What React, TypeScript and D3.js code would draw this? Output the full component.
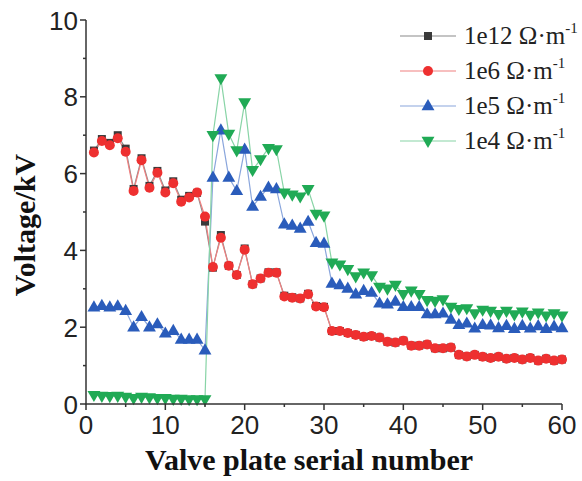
import React from "react";
import * as d3 from "d3";

const xs: number[] = d3.range(1, 61);

const s1e12: number[] = [
  6.6, 6.9, 6.8, 7.0, 6.65, 5.6, 6.4, 5.68, 6.07, 5.56, 5.8, 5.32, 5.42, 5.5, 4.75,
  3.55, 4.4, 3.6, 3.36, 4.05, 3.12, 3.27, 3.43, 3.43, 2.82, 2.78, 2.75, 2.87, 2.55, 2.53,
  1.9, 1.9, 1.85, 1.8, 1.75, 1.77, 1.73, 1.62, 1.6, 1.65, 1.52, 1.52, 1.55, 1.45, 1.45,
  1.47, 1.28, 1.24, 1.28, 1.23, 1.2, 1.23, 1.18, 1.2, 1.16, 1.2, 1.13, 1.18, 1.13, 1.16,
];
const s1e6: number[] = [
  6.55, 6.85, 6.74, 6.92, 6.57, 5.55, 6.35, 5.63, 6.02, 5.51, 5.75, 5.27, 5.38, 5.51, 4.88,
  3.57, 4.33, 3.6, 3.36, 4.02, 3.12, 3.27, 3.42, 3.42, 2.8, 2.77, 2.75, 2.86, 2.54, 2.52,
  1.9, 1.9, 1.85, 1.8, 1.75, 1.77, 1.73, 1.62, 1.6, 1.65, 1.52, 1.52, 1.55, 1.45, 1.45,
  1.47, 1.28, 1.24, 1.28, 1.23, 1.2, 1.23, 1.18, 1.2, 1.16, 1.2, 1.13, 1.18, 1.13, 1.16,
];
const s1e5: number[] = [
  2.52, 2.56, 2.52, 2.55, 2.43, 2.0, 2.27, 2.0, 2.08, 1.84, 1.91, 1.68, 1.68, 1.68, 1.4,
  5.9, 7.13, 5.9, 5.55, 6.63, 5.14, 5.4, 5.64, 5.6, 4.68, 4.65, 4.57, 4.75, 4.2, 4.18,
  3.14, 3.1, 3.01, 2.86, 2.95, 2.9, 2.62, 2.6, 2.67, 2.53, 2.53, 2.53, 2.34, 2.34, 2.36,
  2.2, 2.06, 2.1, 1.97, 2.06, 2.05, 1.98, 2.04, 1.96, 2.04, 1.97, 2.03, 1.96, 2.02, 1.98,
];
const s1e4: number[] = [
  0.23, 0.21, 0.2, 0.21, 0.18, 0.15, 0.18, 0.17, 0.15, 0.15, 0.13, 0.13, 0.12, 0.12, 0.12,
  7.0, 8.48, 7.03, 6.6, 7.85, 6.09, 6.37, 6.66, 6.63, 5.5, 5.45, 5.4, 5.59, 4.95, 4.9,
  3.68, 3.63, 3.51, 3.32, 3.42, 3.35, 3.05, 3.0, 3.1, 2.86, 2.95, 2.86, 2.7, 2.68, 2.72,
  2.53, 2.47, 2.49, 2.36, 2.45, 2.42, 2.34, 2.42, 2.33, 2.4, 2.32, 2.38, 2.3, 2.36, 2.3,
];

const legendLabels: string[] = ["1e12", "1e6", "1e5", "1e4"];
const xTicks: number[] = [0, 10, 20, 30, 40, 50, 60];
const yTicks: number[] = [0, 2, 4, 6, 8, 10];

type Series = { name: string; values: number[]; marker: string; color: string; line: string };

const series: Series[] = [
  { name: legendLabels[0], values: s1e12, marker: "square", color: "#3a3a3a", line: "#8a8a8a" },
  { name: legendLabels[1], values: s1e6, marker: "circle", color: "#ee3030", line: "#f08080" },
  { name: legendLabels[2], values: s1e5, marker: "triangle", color: "#2a5cbb", line: "#8aa6dc" },
  { name: legendLabels[3], values: s1e4, marker: "triangleDown", color: "#20aa55", line: "#88d4a6" },
];

const W = 582;
const H = 481;

function Marker({ type, x, y, color }: { type: string; x: number; y: number; color: string }) {
  if (type === "square") {
    return <rect x={x - 4} y={y - 4} width={8} height={8} fill={color} />;
  }
  if (type === "circle") {
    return <circle cx={x} cy={y} r={5} fill={color} />;
  }
  const sym = d3.symbol().type(d3.symbolTriangle).size(72)();
  const rot = type === "triangleDown" ? 180 : 0;
  return <path d={sym || ""} transform={`translate(${x},${y + (rot ? -0.5 : 0.5)}) rotate(${rot})`} fill={color} />;
}

export default function App() {
  const x = d3.scaleLinear().domain([0, 60]).range([86, 562]);
  const y = d3.scaleLinear().domain([0, 10]).range([404, 20]);
  const line = d3
    .line<number>()
    .x((_, i) => x(xs[i]))
    .y((d) => y(d));

  const axisColor = "#333";
  const yMinor = d3.range(1, 10, 2);
  const xMinor = d3.range(5, 60, 10);
  const sans = "Liberation Sans, Arial, sans-serif";
  const serif = "Liberation Serif, Times New Roman, serif";

  return (
    <svg width={W} height={H} style={{ position: "absolute", left: 0, top: 0, background: "#fff" }}>
      {series.map((s) => (
        <path key={s.name + "l"} d={line(s.values) || ""} fill="none" stroke={s.line} strokeWidth={1.2} />
      ))}
      {series.map((s) => (
        <g key={s.name + "m"}>
          {s.values.map((v, i) => (
            <Marker key={i} type={s.marker} x={x(xs[i])} y={y(v)} color={s.color} />
          ))}
        </g>
      ))}
      <line x1={86} x2={86} y1={y(10)} y2={y(0) + 0.5} stroke={axisColor} strokeWidth={1.5} />
      <line x1={85.3} x2={x(60)} y1={y(0)} y2={y(0)} stroke={axisColor} strokeWidth={1.5} />
      {yTicks.map((t) => (
        <g key={"yt" + t}>
          <line x1={80} x2={86} y1={y(t)} y2={y(t)} stroke={axisColor} strokeWidth={1.5} />
          <text x={78} y={y(t) + 9.5} textAnchor="end" fontFamily={sans} fontSize={26} fill="#222">
            {t}
          </text>
        </g>
      ))}
      {yMinor.map((t) => (
        <line key={"ym" + t} x1={83} x2={86} y1={y(t)} y2={y(t)} stroke={axisColor} strokeWidth={1.5} />
      ))}
      {xTicks.map((t) => (
        <g key={"xt" + t}>
          <line x1={x(t)} x2={x(t)} y1={y(0)} y2={y(0) + 6} stroke={axisColor} strokeWidth={1.5} />
          <text x={x(t)} y={434} textAnchor="middle" fontFamily={sans} fontSize={26} fill="#222">
            {t}
          </text>
        </g>
      ))}
      {xMinor.map((t) => (
        <line key={"xm" + t} x1={x(t)} x2={x(t)} y1={y(0)} y2={y(0) + 3} stroke={axisColor} strokeWidth={1.5} />
      ))}
      <text x={309} y={470} textAnchor="middle" fontFamily={serif} fontWeight="bold" fontSize={30} fill="#111">
        Valve plate serial number
      </text>
      <text
        transform={`translate(35,225) rotate(-90)`}
        textAnchor="middle"
        fontFamily={serif}
        fontWeight="bold"
        fontSize={30}
        fill="#111"
      >
        Voltage/kV
      </text>
      {series.map((s, i) => {
        const ly = 36 + i * 35;
        return (
          <g key={"lg" + s.name}>
            <line x1={400} x2={456} y1={ly} y2={ly} stroke={s.line} strokeWidth={1.2} />
            <Marker type={s.marker} x={428} y={ly} color={s.color} />
            <text x={464} y={ly + 8} fontFamily={serif} fontSize={25} fill="#222">
              {s.name} Ω·m
              <tspan dy={-11} fontSize={15}>-1</tspan>
            </text>
          </g>
        );
      })}
    </svg>
  );
}
